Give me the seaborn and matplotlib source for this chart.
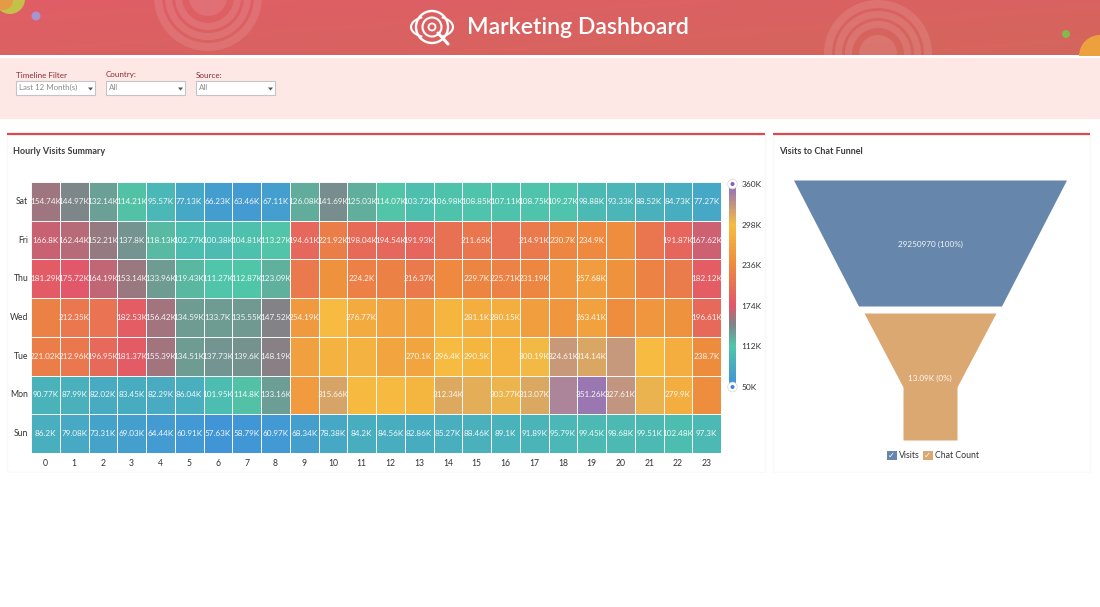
import numpy as np
import pandas as pd
import matplotlib
matplotlib.use("Agg")
import matplotlib.pyplot as plt
import seaborn as sns
from matplotlib.colors import LinearSegmentedColormap
from matplotlib.patches import Circle, Rectangle, Polygon, Arc

sns.set_theme(style="white")
plt.rcParams['font.family'] = ['Lato', 'DejaVu Sans']

days = ["Sat", "Fri", "Thu", "Wed", "Tue", "Mon", "Sun"]
hours = list(range(24))
sat = [154.74,144.97,132.14,114.21,95.57,77.13,66.23,63.46,67.11,126.08,141.69,125.03,114.07,103.72,106.98,108.85,107.11,108.75,109.27,98.88,93.33,88.52,84.73,77.27]
fri = [166.8,162.44,152.21,137.8,118.13,102.77,100.38,104.81,113.27,194.61,221.92,198.04,194.54,191.93,206,211.65,207,214.91,230.7,234.9,240,212,191.87,167.62]
thu = [181.29,175.72,164.19,153.14,133.96,119.43,111.27,112.87,123.09,215,245,224.2,225,216.37,235,229.7,225.71,231.19,250,257.68,245,228,218,182.12]
wed = [225,212.35,208,182.53,156.42,134.59,133.7,135.55,147.52,254.19,296,276.77,265,265,290,281.1,280.15,260,250,263.41,240,250,245,196.61]
tue = [221.02,212.96,196.95,181.37,155.39,134.51,137.73,139.6,148.19,262,285,285,268,270.1,296.4,290.5,288,300.19,324.61,314.14,325,297,280,238.7]
mon = [90.77,87.99,82.02,83.45,82.29,86.04,101.95,114.8,133.16,255,315.66,295,295,290,312.34,308,303.77,313.07,340,351.26,327.61,305,279.9,240]
sun = [86.2,79.08,73.31,69.03,64.44,60.91,57.63,58.79,60.97,68.34,78.38,84.2,84.56,82.86,85.27,88.46,89.1,91.89,95.79,99.45,98.68,99.51,102.48,97.3]
# cells that carry no printed label in the reference: day -> hours
unlabelled = {"Fri": [14,16,20,21], "Thu": [9,10,12,14,18,20,21,22],
              "Wed": [0,2,10,12,13,14,17,18,20,21,22],
              "Tue": [9,10,11,12,16,20,21,22], "Mon": [9,11,12,13,15,18,21,23]}
scale_ticks = [50, 112, 174, 236, 298, 360]
scale_stops = [50, 112, 146, 174, 236, 298, 360]
scale_colors = ["#3f8fdc", "#50c6a8", "#7f8488", "#e2566a", "#ee8a3e", "#f6bc40", "#8c6cc4"]
funnel_names = ["Visits", "Chat Count"]
funnel_labels = ["29250970 (100%)", "13.09K (0%)"]
funnel_colors = ["#6687ab", "#dca872"]
filter_names = ["Timeline Filter", "Country:", "Source:"]
filter_values = ["Last 12 Month(s)", "All", "All"]

W, H = 1100, 607
fig = plt.figure(figsize=(11, 6.07), dpi=100, facecolor="white")

def px_axes(x0, y0, x1, y1, **kw):
    return fig.add_axes([x0 / W, 1 - y1 / H, (x1 - x0) / W, (y1 - y0) / H], **kw)

# ---- page furniture, in pixel coordinates
bg = px_axes(0, 0, W, H)
grad = LinearSegmentedColormap.from_list("hdr", ["#e05e66", "#d4665c"])
gx, gy = np.meshgrid(np.linspace(0, 1, 200), np.linspace(0, 1, 20))
bg.imshow(0.6 * gx + 0.4 * gy, extent=(0, W, 55.5, 0), cmap=grad, aspect="auto", zorder=0)
bg.set_xlim(0, W); bg.set_ylim(H, 0); bg.axis("off")
clip = Rectangle((0, 0), W, 55.5, transform=bg.transData)

def rings(cx, cy):
    for r0, r1 in [(46, 54), (36, 43), (26, 33)]:
        a = Circle((cx, cy), (r0 + r1) / 2, fill=False, ec="white", lw=(r1 - r0) * 0.72, alpha=0.11, zorder=1)
        bg.add_patch(a); a.set_clip_path(clip)
    d = Circle((cx, cy), 19, fc="white", alpha=0.11, lw=0, zorder=1)
    bg.add_patch(d); d.set_clip_path(clip)

rings(208, -3)
rings(878, 54)
for (cx, cy, r, c) in [(10, -1, 15, "#c4c04a"), (36, 16, 4.5, "#a794d0"), (1066, 34, 4, "#86b850"), (1100, 56, 21, "#eda13c")]:
    p = Circle((cx, cy), r, fc=c, lw=0, zorder=2)
    bg.add_patch(p); p.set_clip_path(clip)
bg.add_patch(Circle((3, 0), 10, fc="#e59a45", lw=0, zorder=2))

# logo
for r, lw in [(16, 1.7), (9.5, 1.5), (3.5, 1.3)]:
    bg.add_patch(Circle((432, 27), r, fill=False, ec="white", lw=lw, zorder=3))
bg.add_patch(Arc((432, 27), 42, 22, theta1=-45, theta2=45, ec="white", lw=1.5, zorder=3))
bg.add_patch(Arc((432, 27), 42, 22, theta1=135, theta2=225, ec="white", lw=1.5, zorder=3))
bg.plot([438, 448], [33, 44], color="white", lw=2.2, solid_capstyle="round", zorder=3)
bg.text(467, 27, "Marketing Dashboard", color="white", fontsize=16.6, fontweight="semibold",
        va="center", ha="left", zorder=3)

# filter band
bg.add_patch(Rectangle((0, 58), W, 60.5, fc="#fde8e6", lw=0))
for x, name, val in zip([16, 106, 196], filter_names, filter_values):
    bg.text(x, 75, name, color="#8a2f30", fontsize=5.8, va="center", ha="left")
    bg.add_patch(Rectangle((x, 80.5), 79, 14, fc="white", ec="#c3c3cb", lw=0.8))
    bg.text(x + 3, 87, val, color="#8a8a8a", fontsize=5.7, va="center", ha="left")
    bg.add_patch(Polygon([[x + 72, 87.5], [x + 77, 87.5], [x + 74.5, 90.5]], fc="#555555", lw=0))

# cards
for x0, x1, name in [(7, 765, "Hourly Visits Summary"), (773, 1090, "Visits to Chat Funnel")]:
    bg.add_patch(Rectangle((x0, 134), x1 - x0, 338, fc="white", ec="#faf8f8", lw=1))
    bg.plot([x0, x1], [134, 134], color="#df4a4e", lw=1.6, solid_capstyle="butt")
    bg.text(x0 + 6, 151, name, color="#3d3d3d", fontsize=6.5, fontweight="bold", va="center", ha="left")
bg.add_patch(Rectangle((0, 472.5), W, H - 472.5, fc="white", lw=0, zorder=1.5))

# ---- heatmap
frame = pd.DataFrame([sat, fri, thu, wed, tue, mon, sun], index=days, columns=hours)
annot = frame.map(lambda v: f"{v:g}K")
for day, hrs in unlabelled.items():
    annot.loc[day, hrs] = ""
span = scale_stops[-1] - scale_stops[0]
cmap = LinearSegmentedColormap.from_list(
    "scale", [((s - scale_stops[0]) / span, c) for s, c in zip(scale_stops, scale_colors)])

ax = px_axes(31, 182, 721, 453)
cax = px_axes(729, 184, 736, 387)
sns.heatmap(frame, ax=ax, cbar_ax=cax, cmap=cmap, vmin=scale_ticks[0], vmax=scale_ticks[-1],
            annot=annot, fmt="", linewidths=0.6, linecolor="#f4f8f8",
            annot_kws={"fontsize": 5.9, "color": "white", "alpha": 0.92},
            cbar_kws={"ticks": scale_ticks})
ax.set_xlabel(""); ax.set_ylabel("")
ax.tick_params(axis="both", length=0, labelsize=6.2, labelcolor="#333333")
ax.tick_params(axis="x", pad=4, rotation=0)
ax.tick_params(axis="y", pad=2, rotation=0)
cax.set_yticks(scale_ticks)
cax.set_yticklabels([f"{t}K" for t in scale_ticks])
cax.tick_params(length=0, labelsize=6.0, labelcolor="#333333", pad=4)
for s in cax.spines.values():
    s.set_visible(False)
ax.collections[0].colorbar.outline.set_visible(False)

overlay = px_axes(0, 0, W, H, facecolor="none")
overlay.set_xlim(0, W); overlay.set_ylim(H, 0); overlay.axis("off")
for y, c in [(184, "#7d5fc0"), (387, "#3a86e8")]:
    overlay.add_patch(Circle((732.5, y), 4.8, fc="white", ec="#dddddd", lw=0.6))
    overlay.add_patch(Circle((732.5, y), 2, fc=c, lw=0))

# ---- funnel
centre = 930
stages = [
    [(180, 136.5), (306, 71.5)],
    [(313, 66), (387, 27), (440, 27)],
]
for prof, c, lab, ly in zip(stages, funnel_colors, funnel_labels, [244, 378]):
    ys = [p[0] for p in prof]; hw = np.array([p[1] for p in prof])
    overlay.fill_betweenx(ys, centre - hw, centre + hw, color=c, lw=0)
    overlay.text(centre, ly, lab, color="white", alpha=0.92, fontsize=5.9, ha="center", va="center")

# legend with check boxes
for x, c, name in zip([887, 923], funnel_colors, funnel_names):
    overlay.add_patch(Rectangle((x, 450.5), 9.5, 9.5, fc=c, lw=0))
    overlay.text(x + 4.7, 455.2, "\u2713", color="white", fontsize=6, ha="center", va="center", family="DejaVu Sans")
    overlay.text(x + 12, 455, name, color="#333333", fontsize=6.3, ha="left", va="center")

fig.savefig("out.png", dpi=100)
